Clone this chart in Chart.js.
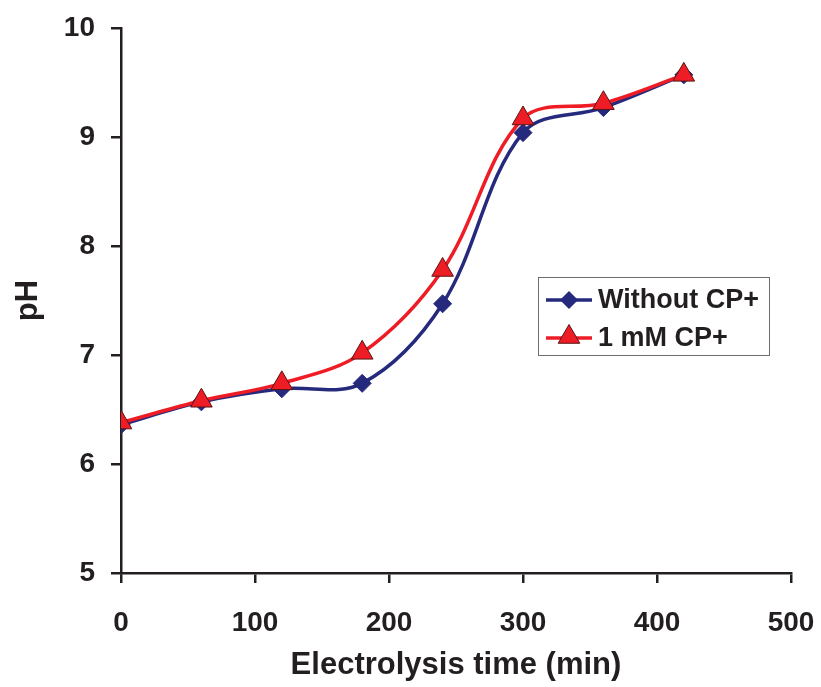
<!DOCTYPE html>
<html>
<head>
<meta charset="utf-8">
<script src="https://cdn.jsdelivr.net/npm/chart.js@4.4.1/dist/chart.umd.min.js"></script>
<style>
  html, body { margin: 0; padding: 0; background: #fff; }
  #wrap { width: 821px; height: 687px; position: relative; }
</style>
</head>
<body>
<div id="wrap"><canvas id="phChart"></canvas></div>
<script>
const times = [0, 60, 120, 180, 240, 300, 360, 420];
const withoutCP = [6.36, 6.57, 6.69, 6.74, 7.47, 9.04, 9.27, 9.57];
const withCP = [6.38, 6.58, 6.74, 7.02, 7.78, 9.17, 9.31, 9.57];
const xTicks = [0, 100, 200, 300, 400, 500];
const yTicks = [5, 6, 7, 8, 9, 10];

const ink = '#231f20';
const navy = '#262a7c';
const red = '#ee1d25';

function toPoints(xs, ys) {
    return xs.map((x, i) => ({ x: x, y: ys[i] }));
}

function diamond(ctx, x, y, r) {
    ctx.beginPath();
    ctx.moveTo(x, y - r);
    ctx.lineTo(x + r, y);
    ctx.lineTo(x, y + r);
    ctx.lineTo(x - r, y);
    ctx.closePath();
}

function triangle(ctx, x, y, r) {
    ctx.beginPath();
    ctx.moveTo(x, y - r);
    ctx.lineTo(x + r * 0.866, y + r * 0.5);
    ctx.lineTo(x - r * 0.866, y + r * 0.5);
    ctx.closePath();
}

// legend box sitting inside the plot area
const boxLegend = {
    id: 'boxLegend',
    afterDraw(chart) {
        const ctx = chart.ctx;
        const a = chart.chartArea;
        const left = a.left + 417;
        const top = a.top + 249;
        ctx.save();
        ctx.fillStyle = '#fff';
        ctx.fillRect(left, top, 231, 78);
        ctx.strokeStyle = '#6d6e71';
        ctx.lineWidth = 1;
        ctx.strokeRect(left + 0.5, top + 0.5, 231, 78);

        const rows = [
            { label: 'Without CP+', color: navy, y: top + 23, mark: 'd' },
            { label: '1 mM CP+', color: red, y: top + 61, mark: 't' }
        ];
        rows.forEach(r => {
            ctx.strokeStyle = r.color;
            ctx.lineWidth = 3.5;
            ctx.beginPath();
            ctx.moveTo(left + 8, r.y);
            ctx.lineTo(left + 54, r.y);
            ctx.stroke();
            if (r.mark === 'd') {
                diamond(ctx, left + 31, r.y, 9);
                ctx.fillStyle = navy;
                ctx.fill();
            } else {
                triangle(ctx, left + 31, r.y - 1, 12.5);
                ctx.fillStyle = red;
                ctx.fill();
                ctx.strokeStyle = '#5a1414';
                ctx.lineWidth = 1;
                ctx.stroke();
            }
            ctx.fillStyle = ink;
            ctx.font = 'bold 27px "Liberation Sans", Arial, sans-serif';
            ctx.textBaseline = 'middle';
            ctx.textAlign = 'left';
            ctx.fillText(r.label, left + 60, r.y + 1);
        });
        ctx.restore();
    }
};

const tickFont = { family: '"Liberation Sans", Arial, sans-serif', size: 28, weight: 'bold' };
const titleFont = { family: '"Liberation Sans", Arial, sans-serif', size: 31, weight: 'bold' };

new Chart(document.getElementById('phChart'), {
    type: 'line',
    data: {
        datasets: [{
            label: 'Without CP+',
            data: toPoints(times, withoutCP),
            borderColor: navy,
            backgroundColor: navy,
            borderWidth: 3.5,
            pointStyle: 'rectRot',
            pointRadius: 9,
            pointBorderWidth: 1,
            pointBorderColor: navy,
            tension: 0.35,
            order: 2
        }, {
            label: '1 mM CP+',
            data: toPoints(times, withCP),
            borderColor: red,
            backgroundColor: red,
            borderWidth: 3.5,
            pointStyle: 'triangle',
            pointRadius: 12.5,
            pointBorderWidth: 1,
            pointBorderColor: '#5a1414',
            tension: 0.35,
            order: 1
        }]
    },
    options: {
        responsive: true,
        maintainAspectRatio: false,
        animation: false,
        layout: { padding: { left: 0, top: 28, right: 30, bottom: 0 } },
        plugins: {
            legend: { display: false },
            tooltip: { enabled: false }
        },
        scales: {
            x: {
                type: 'linear',
                min: 0,
                max: 500,
                afterFit: s => { s.height = 114; s.paddingLeft = 0; s.paddingRight = 0; },
                afterBuildTicks: s => { s.ticks = xTicks.map(v => ({ value: v })); },
                border: { display: true, color: ink, width: 2.5 },
                grid: { drawOnChartArea: false, color: ink, lineWidth: 2.5, tickLength: 10 },
                ticks: { color: ink, font: tickFont, padding: 23, maxRotation: 0 },
                title: {
                    display: true,
                    text: 'Electrolysis time (min)',
                    color: ink,
                    font: titleFont,
                    padding: { top: 0, bottom: 3 }
                }
            },
            y: {
                min: 5,
                max: 10,
                afterFit: s => { s.width = 121; s.paddingTop = 0; s.paddingBottom = 0; },
                afterBuildTicks: s => { s.ticks = yTicks.map(v => ({ value: v })); },
                border: { display: true, color: ink, width: 2.5 },
                grid: { drawOnChartArea: false, color: ink, lineWidth: 2.5, tickLength: 10 },
                ticks: { color: ink, font: tickFont, padding: 16 },
                title: {
                    display: true,
                    text: 'pH',
                    color: ink,
                    font: titleFont,
                    padding: { top: 10, bottom: 0 }
                }
            }
        }
    },
    plugins: [boxLegend]
});
</script>
</body>
</html>
